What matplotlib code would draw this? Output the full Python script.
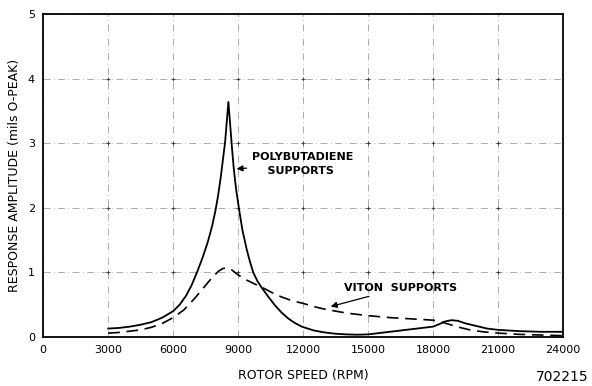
import numpy as np
import matplotlib.pyplot as plt

# rotor speed (rpm) / response amplitude (mils 0-peak)
poly_rpm = [3000, 3500, 4000, 4500, 5000, 5500, 6000, 6300, 6600, 6850, 7100,
            7350, 7600, 7800, 7950, 8080, 8200, 8300, 8400, 8480, 8550, 8630,
            8710, 8800, 8908, 9046, 9200, 9400, 9550, 9707, 9900, 10094,
            10400, 10700, 11000, 11300, 11600, 11940, 12500, 13000, 13500,
            14000, 14500, 15000, 15500, 16000, 16500, 17000, 17500, 18000,
            18300, 18550, 18850, 19150, 19500, 20000, 20500, 21000, 21500,
            22000, 23000, 24000]
poly_amp = [0.13, 0.14, 0.16, 0.19, 0.23, 0.30, 0.40, 0.50, 0.64, 0.80, 1.0,
            1.22, 1.47, 1.72, 1.95, 2.2, 2.48, 2.75, 3.02, 3.35, 3.64, 3.3,
            2.95, 2.6, 2.28, 1.97, 1.65, 1.35, 1.16, 0.99, 0.86, 0.76,
            0.62, 0.49, 0.38, 0.29, 0.22, 0.16, 0.10, 0.07, 0.05,
            0.04, 0.035, 0.04, 0.06, 0.08, 0.10, 0.12, 0.14, 0.16,
            0.20, 0.24, 0.26, 0.25, 0.21, 0.17, 0.13, 0.11, 0.10,
            0.09, 0.08, 0.08]

viton_rpm = [3000, 3500, 4000, 4500, 5000, 5500, 6000, 6500, 7000, 7500, 7800,
             8100, 8300, 8480, 8700, 9000, 9400, 9700, 10094, 10600, 11000,
             11500, 12000, 12500, 13000, 13500, 14000, 15000, 16000, 17000,
             18000, 18400, 18800, 19200, 19700, 20300, 21000, 22000, 23000,
             24000]
viton_amp = [0.06, 0.07, 0.09, 0.11, 0.15, 0.21, 0.30, 0.42, 0.60, 0.80, 0.92,
             1.02, 1.06, 1.07, 1.04, 0.96, 0.88, 0.83, 0.77, 0.68, 0.62,
             0.56, 0.52, 0.47, 0.43, 0.40, 0.37, 0.33, 0.30, 0.28,
             0.26, 0.23, 0.19, 0.15, 0.11, 0.08, 0.06, 0.04, 0.03,
             0.02]

x_ticks = list(range(0, 24001, 3000))
y_ticks = [0, 1, 2, 3, 4, 5]

fig = plt.figure(figsize=(5.92, 3.86), dpi=100)
ax = fig.add_axes([0.073, 0.127, 0.878, 0.837])

# faint dash-dot grid with small crosses at the intersections
ax.grid(True, color='0.55', lw=0.5, linestyle=(0, (10, 5, 1, 5)))
gx, gy = np.meshgrid(x_ticks[1:-1], y_ticks[1:-1])
ax.plot(gx.ravel(), gy.ravel(), '+', color='0.2', ms=3, mew=0.6)

ax.plot(poly_rpm, poly_amp, color='black', lw=1.3)
ax.plot(viton_rpm, viton_amp, color='black', lw=1.2, linestyle=(0, (7, 4)))

ax.set_xlim(0, 24000)
ax.set_ylim(0, 5)
ax.set_xticks(x_ticks)
ax.set_yticks(y_ticks)
ax.tick_params(length=0, labelsize=8, pad=6)
for s in ax.spines.values():
    s.set_linewidth(1.3)

ax.set_xlabel('ROTOR SPEED (RPM)', fontsize=9, labelpad=10)
ax.set_ylabel('RESPONSE AMPLITUDE (mils O-PEAK)', fontsize=9, labelpad=5)

arrow = dict(arrowstyle='-|>', color='black', lw=0.9, mutation_scale=9)
ax.annotate('POLYBUTADIENE\n    SUPPORTS', xy=(8800, 2.6), xytext=(9650, 2.67),
            fontsize=8, fontweight='bold', ha='left', va='center',
            linespacing=1.5, arrowprops=arrow)
ax.annotate('VITON  SUPPORTS', xy=(13150, 0.46), xytext=(13900, 0.76),
            fontsize=8, fontweight='bold', ha='left', va='center',
            arrowprops=arrow)

fig.text(0.905, 0.006, '702215', fontsize=10, va='bottom', ha='left')

fig.savefig('out.png', dpi=100)
